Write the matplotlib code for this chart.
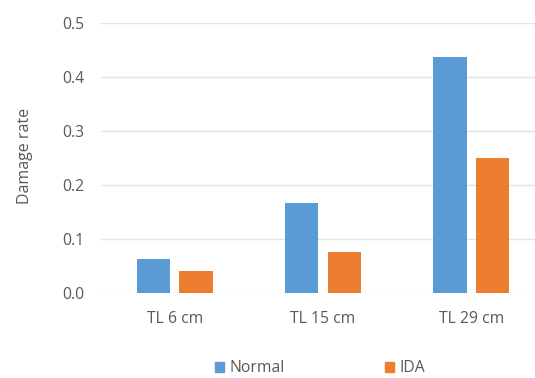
import numpy as np
import matplotlib
matplotlib.use('Agg')
import matplotlib.pyplot as plt
from matplotlib.patches import Patch

plt.rcParams['font.family'] = ['Open Sans', 'DejaVu Sans']

categories = ['TL 6 cm', 'TL 15 cm', 'TL 29 cm']
normal = [0.063, 0.167, 0.437]
ida = [0.041, 0.076, 0.251]
yticks = [0.0, 0.1, 0.2, 0.3, 0.4, 0.5]

blue = '#5B9BD5'
orange = '#ED7D31'
txt = '#595959'

fig = plt.figure(figsize=(5.35, 3.78), dpi=100)
ax = fig.add_axes([0.188, 0.224, 0.812, 0.715])

x = np.arange(len(categories))
w = 0.225
off = 0.143
ax.bar(x - off, normal, w, color=blue, zorder=3)
ax.bar(x + off, ida, w, color=orange, zorder=3)

ax.set_xlim(-0.5, 2.43)
ax.set_ylim(0, 0.5)
ax.set_yticks(yticks)
ax.set_yticklabels(['%.1f' % t for t in yticks])
ax.set_xticks(x)
ax.set_xticklabels(categories)
ax.tick_params(length=0, colors=txt, labelsize=11.3)
ax.tick_params(axis='x', pad=13)
ax.tick_params(axis='y', pad=12)
ax.grid(axis='y', color='#e3e3e3', linewidth=1, zorder=0)
for s in ax.spines.values():
    s.set_visible(False)
ax.set_ylabel('Damage rate', color=txt, fontsize=11.5)
ax.yaxis.set_label_coords(-0.155, 0.51)

handles = [Patch(color=blue, label='Normal'), Patch(color=orange, label='IDA')]
fig.legend(handles=handles, loc='center', bbox_to_anchor=(0.598, 0.026), ncol=2,
           frameon=False, handlelength=0.6, handleheight=0.6, handletextpad=0.3,
           columnspacing=6.4, labelcolor=txt, prop={'size': 11.3})

fig.savefig('out.png', dpi=100)
